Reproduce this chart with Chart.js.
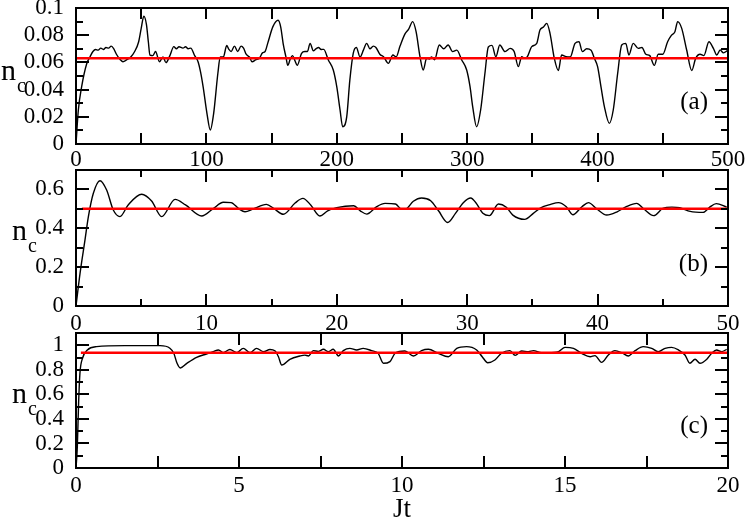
<!DOCTYPE html>
<html>
<head>
<meta charset="utf-8">
<script src="https://cdn.jsdelivr.net/npm/chart.js@4.4.1/dist/chart.umd.min.js"></script>
<style>
  html, body { margin: 0; padding: 0; background: #fff; }
  #wrap { position: relative; width: 747px; height: 518px; overflow: hidden; }
  canvas { position: absolute; left: 0; }
</style>
</head>
<body>
<div id="wrap">
  <canvas id="chartA" width="747" height="172" style="top:0"></canvas>
  <canvas id="chartB" width="747" height="175" style="top:160px"></canvas>
  <canvas id="chartC" width="747" height="198" style="top:320px"></canvas>
</div>
<script>
// panel (a): Jt from 0 to 500
const tA = [0, 1.8, 4.3, 8.2, 10.7, 13, 15, 17, 19, 21, 23, 25, 27, 29, 31, 34, 36, 39, 42, 45, 48, 50, 52, 54, 55.5, 56.7,
  59, 61, 64, 66.7, 69, 72, 75, 77, 79, 82, 84, 86, 88, 91, 93.6, 95.5, 97.5, 100.5, 103, 105.5, 108.8, 110.6, 113, 115.6,
  117, 119, 121.5, 124, 126.6, 128.5, 130.5, 133, 135, 138, 140.6, 143, 145, 147, 151, 155, 157, 159, 161, 162.4, 164.5,
  166, 168, 169.6, 173, 175.5, 177.5, 179.5, 182, 184, 186, 188, 190, 193.5, 197.3, 200, 202.5, 204.5, 207.6, 210, 212.6,
  215, 217.8, 220.4, 222.9, 225.4, 228, 230, 233, 236, 239.5, 243, 245.5, 248.5, 252.3, 255, 258.2, 260.8, 263.8, 266.3,
  268.9, 271, 272.7, 275, 278.6, 282, 285.4, 288.8, 292, 295.8, 299.6, 302.2, 304.2, 307.2, 310.3, 313.6, 316.2, 319, 322,
  325, 329, 333, 336, 339.2, 341.8, 344, 346, 349.5, 353.3, 355.8, 358.5, 361, 363.5, 366.8, 369.9, 372.4, 375.8, 379,
  382.7, 385.7, 388.3, 391.6, 395, 397.5, 400, 402.6, 405.2, 409, 412, 415.4, 418.5, 421.6, 424, 427.3, 431.2, 434, 437,
  440, 443.5, 446.5, 450, 453.7, 456.7, 459.3, 461.4, 464.5, 468.3, 472.2, 475.2, 478.6, 481.5, 485.4, 488.8, 491.4, 494,
  496.5, 500];
const nA = [0, 0.025, 0.042, 0.059, 0.064, 0.068, 0.0695, 0.069, 0.0705, 0.0695, 0.071, 0.0705, 0.072, 0.070, 0.066, 0.062,
  0.0605, 0.062, 0.064, 0.068, 0.075, 0.085, 0.094, 0.088, 0.075, 0.0654,
  0.065, 0.068, 0.0605, 0.064, 0.0598, 0.065, 0.0716, 0.070, 0.0715, 0.0705, 0.0715, 0.070, 0.0705, 0.065, 0.0605, 0.053,
  0.042, 0.022, 0.0103, 0.022, 0.052, 0.064, 0.064, 0.0724,
  0.070, 0.068, 0.072, 0.068, 0.072, 0.0705, 0.066, 0.064, 0.0605, 0.062, 0.063, 0.067, 0.068, 0.074, 0.0863, 0.091,
  0.086, 0.073, 0.064, 0.0578, 0.063,
  0.065, 0.061, 0.0578, 0.0667, 0.068, 0.068, 0.074, 0.0686, 0.070, 0.071, 0.0695, 0.0696, 0.0618, 0.0544, 0.042, 0.025,
  0.0127, 0.020, 0.047, 0.0667,
  0.071, 0.064, 0.069, 0.074, 0.070, 0.072, 0.071, 0.066, 0.064, 0.0593, 0.0654, 0.064, 0.072, 0.081, 0.0843, 0.090,
  0.0826, 0.0642, 0.0544,
  0.063, 0.0625, 0.064, 0.062, 0.0728, 0.070, 0.0728, 0.0679, 0.069, 0.0618, 0.0544, 0.042, 0.0275, 0.0127, 0.025, 0.052,
  0.0713, 0.0725, 0.0642,
  0.0728, 0.0679, 0.0703, 0.068, 0.0569, 0.0642, 0.063, 0.064, 0.0716, 0.074, 0.0838, 0.086, 0.0887, 0.0814, 0.063, 0.054,
  0.0654, 0.0642, 0.064,
  0.074, 0.0752, 0.068, 0.070, 0.069, 0.063, 0.0569, 0.042, 0.0275, 0.0152, 0.025, 0.052, 0.0728, 0.074, 0.0654, 0.074,
  0.0703, 0.071, 0.066,
  0.065, 0.0578, 0.066, 0.066, 0.0752, 0.080, 0.0826, 0.090, 0.085, 0.0691, 0.054, 0.063, 0.066, 0.065, 0.0752, 0.0703,
  0.0654, 0.0691,
  0.067, 0.069];
const meanA = 0.063;

// panel (b): Jt from 0 to 50
const tB = [0, 0.31, 0.69, 0.95, 1.33, 1.84, 2.35, 2.86, 3.37, 4.0, 5.04, 5.8, 6.57, 7.6, 8.4, 9.64, 10.5, 11.3, 11.9, 12.5,
  12.96, 13.6, 14.6, 15.2, 15.9, 16.8, 17.4, 18.0, 18.7, 19.3, 20.0, 21.3, 21.8, 22.3, 23.06, 23.7, 24.5, 24.97, 25.3,
  25.87, 26.5, 27.2, 27.8, 28.5, 29.1, 29.7, 30.27, 30.7, 31.2, 31.7, 32.4, 33.0, 33.5, 34.4, 35.07, 35.6, 36.4, 37.0,
  37.6, 38.1, 38.8, 39.3, 39.9, 40.7, 41.5, 42.2, 43.0, 43.5, 44.3, 45.0, 45.7, 46.3, 47.1, 48.1, 48.6, 49.1, 49.9];
const nB = [0, 0.168, 0.34, 0.46, 0.58, 0.645, 0.597, 0.494, 0.46, 0.52, 0.575, 0.54, 0.46, 0.549, 0.52, 0.463, 0.50, 0.534,
  0.532, 0.50,
  0.485, 0.50, 0.523, 0.50, 0.472, 0.53, 0.554, 0.52, 0.463, 0.49, 0.506, 0.516, 0.49, 0.473, 0.511, 0.528, 0.525, 0.498,
  0.50,
  0.539, 0.556, 0.542, 0.49, 0.43, 0.477, 0.532, 0.556, 0.528, 0.477, 0.465, 0.525, 0.508, 0.468, 0.446, 0.477, 0.504,
  0.523, 0.532,
  0.511, 0.47, 0.511, 0.532, 0.502, 0.468, 0.485, 0.511, 0.528, 0.502, 0.465, 0.502, 0.509, 0.506, 0.487, 0.482, 0.509,
  0.527, 0.509];
const meanB = 0.5;

// panel (c): Jt from 0 to 20
const tC = [0, 0.04, 0.08, 0.12, 0.2, 0.35, 0.63, 1.5, 2.58, 2.88, 3.0, 3.1, 3.2, 3.4, 3.7, 4.0, 4.21, 4.37, 4.52, 4.72,
  4.93, 5.13, 5.34, 5.54, 5.75, 5.95, 6.1, 6.21, 6.31, 6.56, 6.87, 7.02, 7.13, 7.28, 7.43, 7.59, 7.74, 7.89, 8.05, 8.2,
  8.4, 8.61, 8.81, 9.07, 9.27, 9.43, 9.63, 9.79, 10.09, 10.35, 10.6, 10.81, 11.11, 11.42, 11.68, 11.98, 12.29, 12.46,
  12.63, 12.85, 13.05, 13.31, 13.47, 13.67, 13.88, 14.03, 14.28, 14.49, 14.8, 15.0, 15.26, 15.51, 15.77, 15.92, 16.12,
  16.33, 16.53, 16.74, 16.94, 17.15, 17.4, 17.66, 17.86, 18.07, 18.27, 18.48, 18.68, 18.83, 18.99, 19.14, 19.35, 19.5,
  19.65, 19.81, 19.96];
const nC = [0, 0.17, 0.53, 0.77, 0.894, 0.962, 0.989, 0.997, 0.997, 0.976, 0.935, 0.853, 0.815, 0.853, 0.902, 0.929, 0.948,
  0.962, 0.94, 0.966,
  0.94, 0.975, 0.94, 0.975, 0.948, 0.966, 0.955, 0.907, 0.839, 0.886, 0.913, 0.92, 0.913, 0.956, 0.95, 0.967, 0.948,
  0.967, 0.913, 0.956,
  0.975, 0.962, 0.975, 0.956, 0.934, 0.853, 0.867, 0.935, 0.953, 0.913, 0.956, 0.967, 0.935, 0.907, 0.975, 0.989, 0.962,
  0.907,
  0.858, 0.88, 0.935, 0.956, 0.918, 0.953, 0.948, 0.956, 0.94, 0.94, 0.948, 0.983, 0.975, 0.935, 0.907, 0.916, 0.861,
  0.921, 0.956, 0.94, 0.913, 0.956, 0.989, 0.975, 0.948, 0.975, 0.983, 0.962, 0.921, 0.853, 0.886, 0.853, 0.886, 0.935,
  0.962, 0.948, 0.967];
const meanC = 0.94;

// axis ticks and labels
const xTicksA = [0, 50, 100, 150, 200, 250, 300, 350, 400, 450, 500];
const xMajorA = [0, 100, 200, 300, 400, 500];
const xLabelsA = ['0', '100', '200', '300', '400', '500'];
const yTicksA = [0, 0.01, 0.02, 0.03, 0.04, 0.05, 0.06, 0.07, 0.08, 0.09, 0.1];
const yMajorA = [0, 0.02, 0.04, 0.06, 0.08, 0.1];
const yLabelsA = ['0', '0.02', '0.04', '0.06', '0.08', '0.1'];

const xTicksB = [0, 5, 10, 15, 20, 25, 30, 35, 40, 45, 50];
const xMajorB = [0, 10, 20, 30, 40, 50];
const xLabelsB = ['0', '10', '20', '30', '40', '50'];
const yTicksB = [0, 0.1, 0.2, 0.3, 0.4, 0.5, 0.6, 0.7];
const yMajorB = [0, 0.2, 0.4, 0.6];
const yLabelsB = ['0', '0.2', '0.4', '0.6'];

const xTicksC = [0, 2.5, 5, 7.5, 10, 12.5, 15, 17.5, 20];
const xMajorC = [0, 5, 10, 15, 20];
const xLabelsC = ['0', '5', '10', '15', '20'];
const yTicksC = [0, 0.1, 0.2, 0.3, 0.4, 0.5, 0.6, 0.7, 0.8, 0.9, 1, 1.1];
const yMajorC = [0, 0.2, 0.4, 0.6, 0.8, 1];
const yLabelsC = ['0', '0.2', '0.4', '0.6', '0.8', '1'];

const serif = '"Liberation Serif", "Times New Roman", serif';

// inward ticks on all four sides, frame, and text labels
const framePlugin = {
  id: 'frame',
  afterDatasetsDraw(chart, args, opts) {
    const { ctx, chartArea: a, scales: { x, y } } = chart;
    ctx.save();
    ctx.strokeStyle = '#000';
    ctx.lineWidth = 2;
    ctx.beginPath();
    x.ticks.forEach(t => {
      const px = Math.round(x.getPixelForValue(t.value));
      const len = t.label ? opts.xMajorLen : opts.xMinorLen;
      ctx.moveTo(px, a.bottom); ctx.lineTo(px, a.bottom - len);
      ctx.moveTo(px, a.top); ctx.lineTo(px, a.top + len);
    });
    y.ticks.forEach(t => {
      const py = Math.round(y.getPixelForValue(t.value));
      const len = t.label ? 13 : 7;
      ctx.moveTo(a.left, py); ctx.lineTo(a.left + len, py);
      ctx.moveTo(a.right, py); ctx.lineTo(a.right - len, py);
    });
    ctx.stroke();
    ctx.strokeRect(a.left, a.top, a.right - a.left, a.bottom - a.top);

    ctx.fillStyle = '#000';
    ctx.textBaseline = 'alphabetic';
    // y title n_c
    const cy = (a.top + a.bottom) / 2;
    ctx.textAlign = 'left';
    ctx.font = '30px ' + serif;
    ctx.fillText('n', opts.nX, cy + opts.nDy);
    const w = ctx.measureText('n').width;
    ctx.font = '20px ' + serif;
    ctx.fillText('c', opts.nX + w + 1, cy + opts.nDy + 12);
    // panel tag
    ctx.font = '25px ' + serif;
    ctx.textAlign = 'right';
    ctx.fillText(opts.tag, a.right - 20, a.bottom - 35);
    // x title
    if (opts.xTitle) {
      ctx.font = '27px ' + serif;
      ctx.textAlign = 'center';
      ctx.fillText(opts.xTitle, (a.left + a.right) / 2, opts.xTitleY);
    }
    ctx.restore();
  }
};

function makePanel(id, p) {
  const pick = (majors, labels) => v => {
    const i = majors.indexOf(v);
    return i < 0 ? '' : labels[i];
  };
  return new Chart(document.getElementById(id), {
    type: 'line',
    data: {
      datasets: [
        {
          data: [{ x: p.redFrom, y: p.mean }, { x: p.xMax, y: p.mean }],
          borderColor: '#ff0000',
          borderWidth: 2.5,
          pointRadius: 0
        },
        {
          data: p.t.map((t, i) => ({ x: t, y: p.n[i] })),
          borderColor: '#000',
          borderWidth: 1.4,
          pointRadius: 0,
          cubicInterpolationMode: 'monotone'
        }
      ]
    },
    options: {
      responsive: false,
      animation: false,
      events: [],
      layout: { padding: { left: 0, right: 19, top: p.top, bottom: 0 } },
      plugins: {
        legend: { display: false },
        tooltip: { enabled: false },
        frame: p.frame
      },
      scales: {
        x: {
          type: 'linear',
          min: 0,
          max: p.xMax,
          grid: { display: false },
          border: { display: false },
          afterBuildTicks: s => { s.ticks = p.xTicks.map(v => ({ value: v })); },
          afterFit: s => { s.height = p.xHeight; s.paddingLeft = 0; s.paddingRight = 0; },
          ticks: {
            autoSkip: false,
            maxRotation: 0,
            padding: p.xPad,
            color: '#000',
            font: { family: serif, size: 23 },
            callback: pick(p.xMajor, p.xLabels)
          }
        },
        y: {
          min: 0,
          max: p.yMax,
          grid: { display: false },
          border: { display: false },
          afterBuildTicks: s => { s.ticks = p.yTicks.map(v => ({ value: v })); },
          afterFit: s => { s.width = 76; s.paddingTop = 0; s.paddingBottom = 0; },
          ticks: {
            autoSkip: false,
            padding: 4,
            color: '#000',
            font: { family: serif, size: 23 },
            callback: pick(p.yMajor, p.yLabels)
          }
        }
      }
    },
    plugins: [framePlugin]
  });
}

makePanel('chartA', {
  t: tA, n: nA, mean: meanA, redFrom: 0, xMax: 500, yMax: 0.1, top: 8, xHeight: 28, xPad: -6,
  xTicks: xTicksA, xMajor: xMajorA, xLabels: xLabelsA,
  yTicks: yTicksA, yMajor: yMajorA, yLabels: yLabelsA,
  frame: { xMajorLen: 11, xMinorLen: 11, nX: 1, nDy: 4, tag: '(a)' }
});
makePanel('chartB', {
  t: tB, n: nB, mean: meanB, redFrom: 0.45, xMax: 50, yMax: 0.7, top: 10, xHeight: 29, xPad: -4,
  xTicks: xTicksB, xMajor: xMajorB, xLabels: xLabelsB,
  yTicks: yTicksB, yMajor: yMajorB, yLabels: yLabelsB,
  frame: { xMajorLen: 12, xMinorLen: 7, nX: 12, nDy: 2, tag: '(b)' }
});
makePanel('chartC', {
  t: tC, n: nC, mean: meanC, redFrom: 0.15, xMax: 20, yMax: 1.1, top: 13, xHeight: 50, xPad: -4,
  xTicks: xTicksC, xMajor: xMajorC, xLabels: xLabelsC,
  yTicks: yTicksC, yMajor: yMajorC, yLabels: yLabelsC,
  frame: { xMajorLen: 12, xMinorLen: 12, nX: 12, nDy: 2, tag: '(c)', xTitle: 'Jt', xTitleY: 197 }
});
</script>
</body>
</html>
